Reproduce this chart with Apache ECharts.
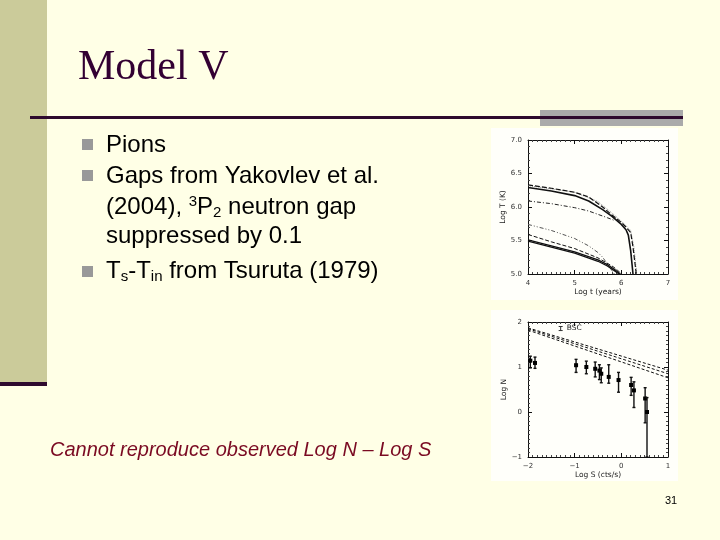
<!DOCTYPE html>
<html>
<head>
<meta charset="utf-8">
<script src="https://cdn.jsdelivr.net/npm/echarts@6/dist/echarts.min.js"></script>
<style>
html, body { margin: 0; padding: 0; background: #FFFFE6; }
#main { width: 720px; height: 540px; }
</style>
</head>
<body>
<div id="main"></div>
<script>
// 上图：冷却曲线 Log t (years) - Log T (K)
const coolTopSolid = [[4, 6.29], [4.5, 6.24], [5, 6.17], [5.3, 6.09], [5.6, 5.96], [5.8, 5.86], [6.0, 5.74], [6.1, 5.66], [6.15, 5.58], [6.2, 5.35], [6.25, 5.0]]
const coolTopDash = [[4, 6.33], [4.5, 6.28], [5, 6.22], [5.3, 6.15], [5.6, 6.0], [5.8, 5.88], [6.0, 5.77], [6.1, 5.7], [6.2, 5.62], [6.25, 5.4], [6.32, 5.0]]
const coolTopDot = [[4, 6.32], [5, 6.22], [5.5, 6.08], [5.8, 5.91], [6.0, 5.79], [6.2, 5.65], [6.27, 5.4], [6.33, 5.0]]
const coolMidDashDot = [[4, 6.09], [4.5, 6.05], [5, 5.99], [5.3, 5.94], [5.5, 5.89], [5.7, 5.84], [5.85, 5.8]]
const coolLowDashDot = [[4, 5.74], [4.5, 5.65], [5, 5.53], [5.3, 5.42], [5.5, 5.32], [5.6, 5.25], [5.7, 5.15], [5.8, 5.05], [5.85, 5.0]]
const coolLowDash = [[4, 5.59], [4.5, 5.48], [5, 5.38], [5.5, 5.24], [5.8, 5.12], [5.9, 5.07], [6.0, 5.0]]
const coolLowSolidA = [[4, 5.51], [4.5, 5.42], [5, 5.33], [5.5, 5.21], [5.7, 5.14], [5.85, 5.07], [5.98, 5.0]]
const coolLowSolidB = [[4, 5.49], [4.5, 5.4], [5, 5.31], [5.5, 5.19], [5.7, 5.12], [5.85, 5.05], [5.95, 5.0]]

// 下图：Log N - Log S
const modelLineA = [[-2, 1.87], [1, 0.93]]
const modelLineB = [[-2, 1.85], [1, 0.85]]
const modelLineC = [[-2, 1.82], [1, 0.76]]
const obsS = [-1.95, -1.85, -0.97, -0.75, -0.56, -0.47, -0.43, -0.27, -0.06, 0.21, 0.27, 0.51, 0.55]
const obsN = [1.14, 1.09, 1.04, 1.0, 0.96, 0.92, 0.85, 0.78, 0.71, 0.6, 0.48, 0.3, 0.0]
const obsHi = [1.24, 1.22, 1.17, 1.13, 1.11, 1.05, 0.98, 1.05, 0.88, 0.77, 0.67, 0.54, 0.32]
const obsLo = [0.98, 0.97, 0.88, 0.85, 0.78, 0.72, 0.65, 0.64, 0.44, 0.37, 0.1, -0.24, -1.0]
const bscMark = [-1.3, 1.81, 1.9]

const myChart = echarts.init(document.getElementById('main'))

const tickFont = { fontSize: 7, color: '#333', fontFamily: 'DejaVu Sans' }
const minus = v => String(v).replace('-', '\u2212')

function axisPair(kind, grid, min, max, interval, minorSplit, fmt, name, gap) {
  const base = {
    type: 'value', gridIndex: grid, min: min, max: max, interval: interval,
    splitLine: { show: false },
    axisLine: { show: true, onZero: false, lineStyle: { color: '#111', width: 1 } },
    axisTick: { show: true, inside: true, length: 4, lineStyle: { color: '#111' } },
    minorTick: { show: true, splitNumber: minorSplit, length: 2, lineStyle: { color: '#444' } }
  }
  const main = Object.assign({}, base, {
    position: kind === 'x' ? 'bottom' : 'left',
    name: name, nameLocation: 'middle', nameGap: gap,
    nameTextStyle: { fontSize: 7.5, color: '#222', fontFamily: 'DejaVu Sans' },
    axisLabel: Object.assign({ margin: 6, formatter: fmt }, tickFont)
  })
  const mirror = Object.assign({}, base, {
    position: kind === 'x' ? 'top' : 'right',
    axisLabel: { show: false }
  })
  return [main, mirror]
}

const lineSeries = (data, xi, type, width, color) => ({
  type: 'line', xAxisIndex: xi, yAxisIndex: xi, data: data,
  showSymbol: false, symbol: 'none', silent: true, clip: true,
  lineStyle: { type: type, width: width, color: color }
})

function errorBar(params, api) {
  const x = api.value(0)
  const lo = api.coord([x, api.value(1)])
  const hi = api.coord([x, api.value(2)])
  const mid = api.coord([x, api.value(3)])
  const st = { stroke: '#111', lineWidth: 1.4 }
  return {
    type: 'group',
    children: [
      { type: 'line', shape: { x1: hi[0], y1: hi[1], x2: lo[0], y2: lo[1] }, style: st },
      { type: 'line', shape: { x1: hi[0] - 1.5, y1: hi[1], x2: hi[0] + 1.5, y2: hi[1] }, style: st },
      { type: 'line', shape: { x1: lo[0] - 1.5, y1: lo[1], x2: lo[0] + 1.5, y2: lo[1] }, style: st },
      { type: 'rect', shape: { x: mid[0] - 2, y: mid[1] - 2, width: 4, height: 4 }, style: { fill: '#000' } }
    ]
  }
}

function bscItem(params, api) {
  const x = api.value(0)
  const lo = api.coord([x, api.value(1)])
  const hi = api.coord([x, api.value(2)])
  const st = { stroke: '#333', lineWidth: 1 }
  return {
    type: 'group',
    children: [
      { type: 'line', shape: { x1: hi[0], y1: hi[1], x2: lo[0], y2: lo[1] }, style: st },
      { type: 'line', shape: { x1: hi[0] - 2, y1: hi[1], x2: hi[0] + 2, y2: hi[1] }, style: st },
      { type: 'line', shape: { x1: lo[0] - 2, y1: lo[1], x2: lo[0] + 2, y2: lo[1] }, style: st },
      { type: 'text', style: { text: 'BSC', x: hi[0] + 6, y: (hi[1] + lo[1]) / 2, verticalAlign: 'middle', font: '7.5px "DejaVu Sans"', fill: '#222' } }
    ]
  }
}

const x1 = axisPair('x', 0, 4, 7, 1, 10, v => String(v), 'Log t (years)', 14)
const y1 = axisPair('y', 0, 5, 7, 0.5, 5, v => v.toFixed(1), 'Log T (K)', 21)
const x2 = axisPair('x', 1, -2, 1, 1, 10, minus, 'Log S (cts/s)', 14)
const y2 = axisPair('y', 1, -1, 2, 1, 10, minus, 'Log N', 18)

const bulletFont = '24px "Liberation Sans", Arial, sans-serif'
const richBase = {
  n: { fontSize: 24, lineHeight: 26, fontFamily: 'Liberation Sans', fill: '#000' },
  sup: { fontSize: 15, lineHeight: 15, verticalAlign: 'top', fontFamily: 'Liberation Sans', fill: '#000' },
  sub: { fontSize: 15, lineHeight: 15, verticalAlign: 'bottom', fontFamily: 'Liberation Sans', fill: '#000' }
}

const option = {
  backgroundColor: '#FFFFE6',
  animation: false,
  graphic: {
    elements: [
      // 左侧色带
      { type: 'rect', left: 0, top: 0, z: -10, shape: { width: 47, height: 383 }, style: { fill: '#CBCB9A' } },
      { type: 'rect', left: 0, top: 382, z: -10, shape: { width: 47, height: 4 }, style: { fill: '#2E0A2E' } },
      // 标题下方横线
      { type: 'rect', left: 540, top: 110, z: -10, shape: { width: 143, height: 16 }, style: { fill: '#AAAAAA' } },
      { type: 'rect', left: 30, top: 116, z: -9, shape: { width: 653, height: 3 }, style: { fill: '#2E0A2E' } },
      // 图片底色
      { type: 'rect', left: 491, top: 128, z: -10, shape: { width: 187, height: 172 }, style: { fill: '#FFFFFA' } },
      { type: 'rect', left: 491, top: 310, z: -10, shape: { width: 187, height: 171 }, style: { fill: '#FFFFFA' } },
      { type: 'text', left: 78, top: 47, style: { text: 'Model V', font: '42px "Liberation Serif", "Times New Roman", serif', fill: '#330033' } },
      // 项目符号
      { type: 'rect', left: 82, top: 139, shape: { width: 11, height: 11 }, style: { fill: '#999999' } },
      { type: 'rect', left: 82, top: 170, shape: { width: 11, height: 11 }, style: { fill: '#999999' } },
      { type: 'rect', left: 82, top: 266, shape: { width: 11, height: 11 }, style: { fill: '#999999' } },
      { type: 'text', left: 106, top: 133, style: { text: 'Pions', font: bulletFont, fill: '#000' } },
      { type: 'text', left: 106, top: 164, style: { text: 'Gaps from Yakovlev et al.', font: bulletFont, fill: '#000' } },
      { type: 'text', left: 106, top: 194, style: { text: '{n|(2004), }{sup|3}{n|P}{sub|2}{n| neutron gap}', rich: richBase } },
      { type: 'text', left: 106, top: 224, style: { text: 'suppressed by 0.1', font: bulletFont, fill: '#000' } },
      { type: 'text', left: 106, top: 259, style: { text: '{n|T}{sub|s}{n|-T}{sub|in}{n| from Tsuruta (1979)}', rich: richBase } },
      { type: 'text', left: 50, top: 440, style: { text: 'Cannot reproduce observed Log N \u2013 Log S', font: 'italic 20px "Liberation Sans", Arial, sans-serif', fill: '#7A0A22' } },
      { type: 'text', left: 665, top: 495, style: { text: '31', font: '11px "Liberation Sans", Arial, sans-serif', fill: '#000' } }
    ]
  },
  grid: [
    { left: 528, top: 140, width: 140, height: 134 },
    { left: 528, top: 322, width: 140, height: 135 }
  ],
  xAxis: [x1[0], x1[1], x2[0], x2[1]],
  yAxis: [y1[0], y1[1], y2[0], y2[1]],
  series: [
    lineSeries(coolTopDot, 0, 'dotted', 1, '#999'),
    lineSeries(coolTopDash, 0, [5, 2], 1.2, '#111'),
    lineSeries(coolTopSolid, 0, 'solid', 1.6, '#111'),
    lineSeries(coolMidDashDot, 0, [4, 2, 1, 2], 1, '#222'),
    lineSeries(coolLowDashDot, 0, [4, 2, 1, 2, 1, 2], 1, '#555'),
    lineSeries(coolLowDash, 0, [4, 2], 1, '#111'),
    lineSeries(coolLowSolidA, 0, 'solid', 1.3, '#111'),
    lineSeries(coolLowSolidB, 0, 'solid', 1.3, '#111'),
    lineSeries(modelLineA, 2, [3, 2], 1, '#111'),
    lineSeries(modelLineB, 2, [3, 2], 1, '#111'),
    lineSeries(modelLineC, 2, [3, 2], 1, '#111'),
    {
      type: 'custom', xAxisIndex: 2, yAxisIndex: 2, silent: true,
      renderItem: errorBar,
      data: obsS.map((s, i) => [s, obsLo[i], obsHi[i], obsN[i]])
    },
    {
      type: 'custom', xAxisIndex: 2, yAxisIndex: 2, silent: true,
      renderItem: bscItem,
      data: [bscMark]
    }
  ]
}

myChart.setOption(option)
</script>
</body>
</html>
